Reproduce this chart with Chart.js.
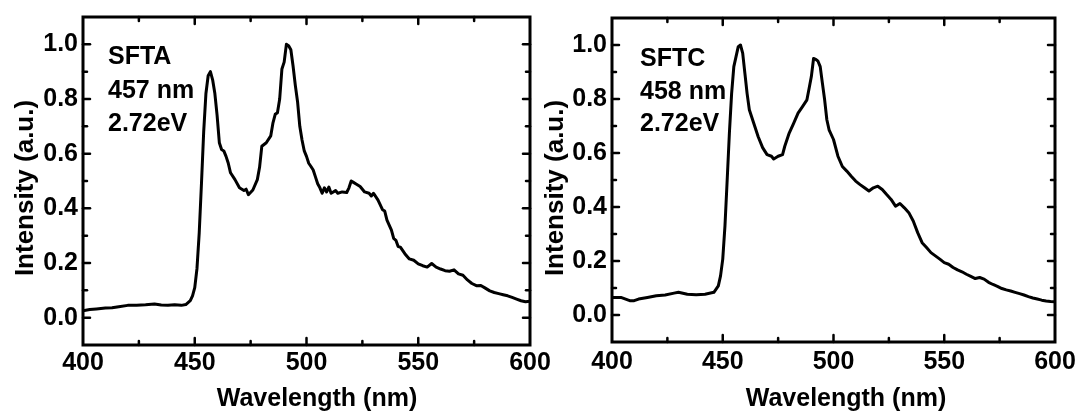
<!DOCTYPE html>
<html><head><meta charset="utf-8">
<script src="https://cdn.jsdelivr.net/npm/chart.js@4/dist/chart.umd.min.js"></script>
<style>
html,body{margin:0;padding:0;background:#fff;}
#wrap{position:relative;width:1079px;height:414px;overflow:hidden;}
canvas{position:absolute;left:0;top:0;}
</style></head><body>
<div id="wrap"><canvas id="c1" width="1079" height="414"></canvas><canvas id="c2" width="1079" height="414"></canvas></div>
<script>
// ---- data ----
const wavelengthSFTA = [400,403,406,410,413,416,420,424,428,432,435,438,441,444,446,448,449,450,451,452,453,454,455,456,457,458,459,460,461,462,463,464,465,466,468,470,472,473,474,476,478,479,480,482,484,485,486,487,488,489,490,491,492,493,494,495,496,497,498,499,500,501,502,503,504,505,506,507,508,509,510,511,512,513,514,516,518,519,520,521,522,524,526,528,529,530,532,534,535,536,538,539,540,541,542,544,546,548,550,552,554,556,558,560,562,564,566,568,570,572,574,576,578,580,582,584,586,588,590,592,594,596,598,600];
const intensitySFTA = [0.025,0.03,0.032,0.035,0.036,0.04,0.045,0.045,0.047,0.05,0.046,0.045,0.047,0.045,0.048,0.062,0.08,0.11,0.18,0.31,0.49,0.68,0.82,0.885,0.90,0.87,0.82,0.74,0.64,0.615,0.61,0.59,0.565,0.53,0.505,0.475,0.465,0.47,0.45,0.467,0.505,0.55,0.627,0.64,0.665,0.713,0.744,0.75,0.80,0.91,0.935,1.0,0.995,0.98,0.92,0.85,0.79,0.70,0.65,0.61,0.59,0.565,0.553,0.54,0.515,0.49,0.475,0.455,0.475,0.46,0.478,0.455,0.46,0.465,0.455,0.46,0.458,0.475,0.50,0.495,0.49,0.48,0.46,0.455,0.445,0.455,0.43,0.395,0.39,0.357,0.32,0.29,0.283,0.26,0.258,0.234,0.215,0.21,0.197,0.19,0.185,0.198,0.185,0.178,0.172,0.17,0.175,0.16,0.155,0.138,0.125,0.117,0.118,0.108,0.098,0.092,0.088,0.084,0.08,0.074,0.068,0.062,0.058,0.06];

const wavelengthSFTC = [400,404,408,410,412,416,420,424,428,430,434,438,442,446,448,449,450,451,452,453,454,455,456,457,458,459,460,461,462,463,464,466,468,470,472,473,475,477,478,480,482,484,486,488,489,490,491,492,493,494,495,496,497,498,500,502,504,506,508,510,512,514,516,518,520,522,524,526,528,530,532,534,536,538,540,542,544,546,548,550,552,554,556,558,560,562,564,566,568,570,572,574,576,578,580,582,584,586,588,590,592,594,596,598,600];
const intensitySFTC = [0.065,0.065,0.053,0.053,0.059,0.065,0.071,0.074,0.081,0.084,0.077,0.075,0.077,0.084,0.108,0.145,0.207,0.33,0.50,0.674,0.82,0.92,0.957,0.994,1.0,0.97,0.895,0.82,0.76,0.735,0.71,0.66,0.62,0.594,0.588,0.578,0.588,0.594,0.625,0.674,0.71,0.748,0.772,0.797,0.84,0.883,0.95,0.947,0.94,0.92,0.858,0.797,0.723,0.686,0.65,0.588,0.55,0.533,0.514,0.496,0.483,0.471,0.459,0.471,0.477,0.465,0.446,0.428,0.403,0.413,0.397,0.379,0.348,0.305,0.268,0.25,0.231,0.219,0.207,0.194,0.188,0.176,0.167,0.16,0.151,0.143,0.135,0.139,0.133,0.121,0.113,0.106,0.098,0.093,0.089,0.084,0.079,0.074,0.068,0.063,0.059,0.055,0.052,0.05,0.049];

const xTickValues = [400,450,500,550,600];
const xMinorTicks = [425,475,525,575];
const yTickValues = [0.0,0.2,0.4,0.6,0.8,1.0];
const yMinorTicks = [0.1,0.3,0.5,0.7,0.9];
const xTitle = 'Wavelength (nm)';
const yTitle = 'Intensity (a.u.)';
const notesSFTA = ['SFTA','457 nm','2.72eV'];
const notesSFTC = ['SFTC','458 nm','2.72eV'];

const FONT = "'Liberation Sans', Arial, sans-serif";

const deco = {
  id: 'deco',
  afterDraw(chart, args, o) {
    const ctx = chart.ctx;
    const {left: L, right: R, top: T, bottom: B} = chart.chartArea;
    const xs = chart.scales.x, ys = chart.scales.y;
    ctx.save();
    ctx.strokeStyle = '#000';
    ctx.lineCap = 'round';
    ctx.lineWidth = 2.5;
    const tick = (x1,y1,x2,y2) => { ctx.beginPath(); ctx.moveTo(x1,y1); ctx.lineTo(x2,y2); ctx.stroke(); };
    xTickValues.forEach(v => { const x = xs.getPixelForValue(v); if (x > L+2 && x < R-2) { tick(x,B,x,B-7); tick(x,T,x,T+7); } });
    xMinorTicks.forEach(v => { const x = xs.getPixelForValue(v); tick(x,B,x,B-4); tick(x,T,x,T+4); });
    yTickValues.forEach(v => { const y = ys.getPixelForValue(v); tick(L,y,L+7,y); tick(R,y,R-7,y); });
    yMinorTicks.forEach(v => { const y = ys.getPixelForValue(v); tick(L,y,L+4,y); tick(R,y,R-4,y); });
    ctx.lineCap = 'butt';
    ctx.lineWidth = 3;
    ctx.strokeRect(L, T, R-L, B-T);
    ctx.fillStyle = '#000';
    ctx.textBaseline = 'alphabetic';
    ctx.textAlign = 'center';
    ctx.font = 'bold 25px ' + FONT;
    ctx.fillText(xTitle, o.xtx, o.xty);
    ctx.save();
    ctx.font = 'bold 26px ' + FONT;
    ctx.translate(o.ytx, o.yty);
    ctx.rotate(-Math.PI/2);
    ctx.fillText(yTitle, 0, 0);
    ctx.restore();
    ctx.font = 'bold 25px ' + FONT;
    ctx.textAlign = 'left';
    o.notes.forEach((t,i) => ctx.fillText(t, o.nx, o.ny[i]));
    ctx.restore();
  }
};

function makeChart(id, xsArr, ysArr, g) {
  const pts = xsArr.map((x,i) => ({x: x, y: ysArr[i]}));
  return new Chart(document.getElementById(id), {
    type: 'line',
    data: { datasets: [{ data: pts, borderColor: '#000', borderWidth: 3, pointRadius: 0, tension: 0, borderJoinStyle: 'round', fill: false }] },
    options: {
      responsive: false, animation: false, devicePixelRatio: 1,
      layout: { padding: { left: g.padL, right: g.padR, top: g.padT, bottom: 0 } },
      plugins: { legend: { display: false }, tooltip: { enabled: false }, deco: g.deco },
      scales: {
        x: {
          type: 'linear', min: 400, max: 600,
          grid: { display: false, drawTicks: false }, border: { display: false },
          afterBuildTicks: s => { s.ticks = xTickValues.map(v => ({value: v})); },
          afterFit: s => { s.height = g.xH; s.paddingLeft = 0; s.paddingRight = 0; },
          ticks: { color: '#000', padding: g.xPad, maxRotation: 0, autoSkip: false, font: { family: FONT, weight: 'bold', size: 25 }, callback: v => String(v) }
        },
        y: {
          type: 'linear', min: -0.1, max: 1.1,
          grid: { display: false, drawTicks: false }, border: { display: false },
          afterBuildTicks: s => { s.ticks = yTickValues.map(v => ({value: v})); },
          afterFit: s => { s.width = g.yW; s.paddingTop = 0; s.paddingBottom = 0; },
          ticks: { color: '#000', padding: 5, autoSkip: false, font: { family: FONT, weight: 'bold', size: 25 }, callback: v => Number(v).toFixed(1) }
        }
      }
    },
    plugins: [deco]
  });
}

makeChart('c1', wavelengthSFTA, intensitySFTA, {
  padL: 0, yW: 83, padR: 549, padT: 17, xH: 69, xPad: 3,
  deco: { xtx: 317, xty: 406, ytx: 33, yty: 188, notes: notesSFTA, nx: 108, ny: [64, 98, 131] }
});
makeChart('c2', wavelengthSFTC, intensitySFTC, {
  padL: 540, yW: 72, padR: 24, padT: 18, xH: 72, xPad: 5,
  deco: { xtx: 846, xty: 406, ytx: 563, yty: 188, notes: notesSFTC, nx: 640, ny: [66, 99, 131] }
});
</script>
</body></html>
